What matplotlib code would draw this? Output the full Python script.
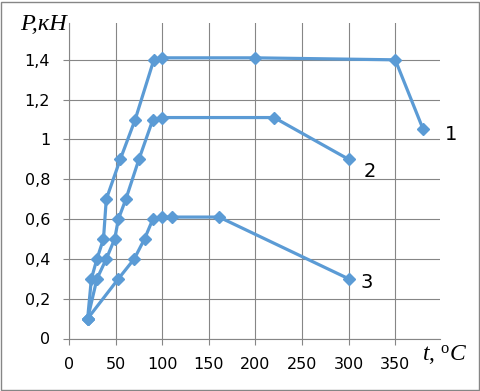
import matplotlib
matplotlib.use("Agg")
import matplotlib.pyplot as plt
from matplotlib.patches import Rectangle

plt.rcParams['mathtext.fontset'] = 'custom'
plt.rcParams['mathtext.it'] = 'Liberation Serif:italic'
plt.rcParams['mathtext.rm'] = 'Liberation Serif'

x1 = [20, 24, 30, 37, 40, 55, 71, 91, 100, 200, 350, 380]
y1 = [0.1, 0.3, 0.4, 0.5, 0.7, 0.9, 1.1, 1.4, 1.41, 1.41, 1.4, 1.05]
x2 = [20, 30, 40, 49, 53, 61, 75, 90, 100, 220, 300]
y2 = [0.1, 0.3, 0.4, 0.5, 0.6, 0.7, 0.9, 1.1, 1.11, 1.11, 0.9]
x3 = [20, 53, 70, 81, 90, 100, 111, 161, 300]
y3 = [0.1, 0.3, 0.4, 0.5, 0.6, 0.61, 0.61, 0.61, 0.3]
series_labels = ["1", "2", "3"]
xticks = [0, 50, 100, 150, 200, 250, 300, 350]
yticks = [0, 0.2, 0.4, 0.6, 0.8, 1.0, 1.2, 1.4]
ytick_labels = ["0", "0,2", "0,4", "0,6", "0,8", "1", "1,2", "1,4"]

W, H = 480, 391
fig = plt.figure(figsize=(W / 100, H / 100), dpi=100)
ax = fig.add_axes([69 / W, 1 - 338.5 / H, (440 - 69) / W, (338.5 - 23) / H])

color = '#5B9BD5'
grid_c = '#868686'
offsets = [(28, -5), (21, -12), (18, -3.5)]
for (xs, ys), lab, off in zip([(x1, y1), (x2, y2), (x3, y3)], series_labels, offsets):
    ax.plot(xs, ys, color=color, lw=2.3, marker='D', ms=6, mec=color, mfc=color, zorder=3)
    ax.annotate(lab, (xs[-1], ys[-1]), xytext=off, textcoords='offset pixels',
                ha='center', va='center', fontsize=14, family='DejaVu Sans')

ax.set_xlim(0, 398)
ax.set_ylim(0, 1.585)
ax.set_xticks(xticks)
ax.set_yticks(yticks)
ax.set_yticklabels(ytick_labels)
ax.grid(True, color=grid_c, lw=0.8)
ax.set_axisbelow(True)
for s in ['top', 'right']:
    ax.spines[s].set_visible(False)
for s in ['left', 'bottom']:
    ax.spines[s].set_color(grid_c)
    ax.spines[s].set_linewidth(0.8)
ax.tick_params(axis='both', direction='out', length=4.5, width=0.8, color=grid_c,
               labelsize=11.5, pad=9)

fig.text(44 / W, 1 - 25 / H, 'P,кН', family='Liberation Serif', style='italic',
         fontsize=17.5, ha='center', va='center')
fig.text(444.5 / W, 1 - 355 / H, r'$t,\,^{\mathrm{o}}C$', fontsize=17,
         ha='center', va='center')

fig.patches.append(Rectangle((0.5 / W, 1.5 / H), (W - 2) / W, (H - 3) / H,
                             transform=fig.transFigure, fill=False,
                             edgecolor='#868686', lw=1))

fig.savefig('out.png', dpi=100, facecolor='white')
